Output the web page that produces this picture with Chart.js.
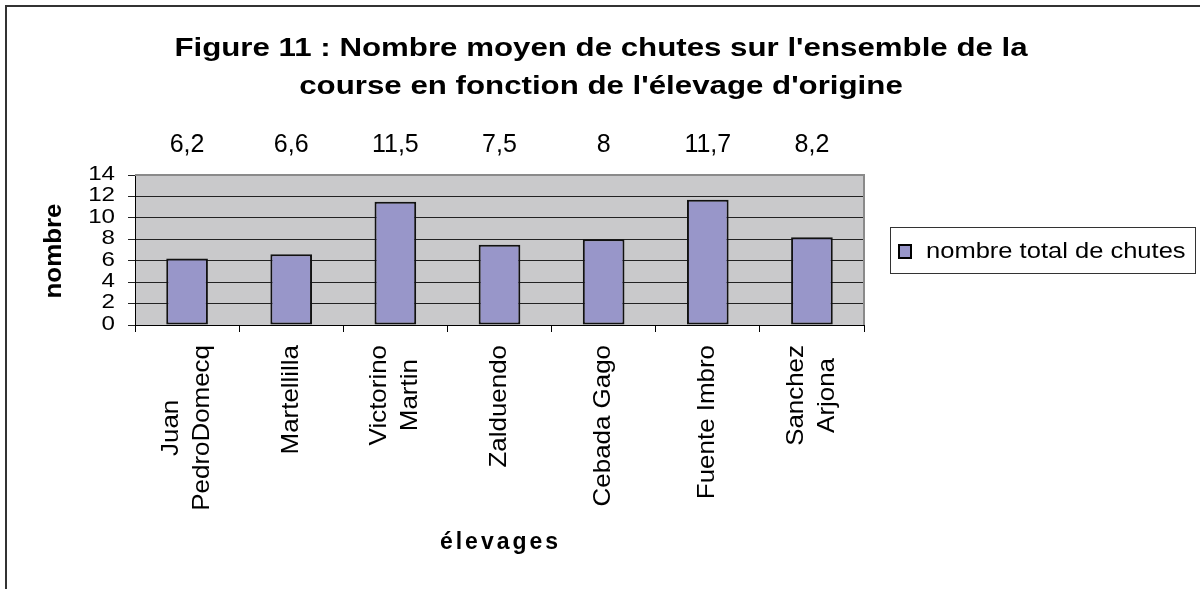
<!DOCTYPE html>
<html>
<head>
<meta charset="utf-8">
<script src="https://cdn.jsdelivr.net/npm/chart.js@4.4.1/dist/chart.umd.min.js"></script>
<style>
  html, body { margin: 0; padding: 0; background: #ffffff; }
  #c { display: block; }
</style>
</head>
<body>
<canvas id="c" width="1200" height="589"></canvas>
<script>
// ---- data ----
const titleLines = ["Figure 11 : Nombre moyen de chutes sur l'ensemble de la", "course en fonction de l'élevage d'origine"];
const categories = [["Juan", "PedroDomecq"], "Martellilla", ["Victorino", "Martin"], "Zalduendo", "Cebada Gago", "Fuente Imbro", ["Sanchez", "Arjona"]];
const seriesLabel = "nombre total de chutes";
const seriesValues = [6.2, 6.6, 11.5, 7.5, 8, 11.7, 8.2];
const yTitle = "nombre";
const xTitle = "élevages";
const yMin = 0, yMax = 14, yStep = 2;

const FONT = '"Liberation Sans", Arial, sans-serif';
const BAR = '#9896C9';
const PLOT_BG = '#C9C9CB';

function txt(ctx, s, x, y, o) {
  ctx.save();
  ctx.translate(x, y);
  if (o.rot) ctx.rotate(o.rot);
  ctx.scale(o.sx || 1, 1);
  ctx.font = (o.bold ? 'bold ' : '') + o.size + 'px ' + FONT;
  ctx.fillStyle = o.color || '#000';
  ctx.textAlign = o.align || 'center';
  ctx.textBaseline = o.baseline || 'alphabetic';
  if (o.spacing) ctx.letterSpacing = o.spacing + 'px';
  ctx.fillText(s, 0, 0);
  ctx.restore();
}
function measure(ctx, s, size, bold) {
  ctx.save();
  ctx.font = (bold ? 'bold ' : '') + size + 'px ' + FONT;
  const w = ctx.measureText(s).width;
  ctx.restore();
  return w;
}

const decor = {
  id: 'decor',
  beforeDraw(chart) {
    const ctx = chart.ctx, a = chart.chartArea;
    ctx.save();
    ctx.fillStyle = '#ffffff';
    ctx.fillRect(0, 0, chart.width, chart.height);
    ctx.fillStyle = PLOT_BG;
    ctx.fillRect(a.left, a.top, a.right - a.left, a.bottom - a.top);
    ctx.restore();
  },
  beforeDatasetsDraw(chart) {
    const ctx = chart.ctx, a = chart.chartArea;
    ctx.save();
    ctx.strokeStyle = '#8a8a8a';
    ctx.lineWidth = 2;
    ctx.beginPath();
    ctx.moveTo(a.left, a.top);
    ctx.lineTo(a.right, a.top);
    ctx.lineTo(a.right, a.bottom);
    ctx.stroke();
    ctx.restore();
  },
  afterDraw(chart) {
    const ctx = chart.ctx, a = chart.chartArea;
    const xs = chart.scales.x, ys = chart.scales.y;

    // outer frame (top and left)
    ctx.save();
    ctx.strokeStyle = '#333';
    ctx.lineWidth = 2;
    ctx.beginPath();
    ctx.moveTo(1200, 6);
    ctx.lineTo(6, 6);
    ctx.lineTo(6, 589);
    ctx.stroke();
    ctx.restore();

    // title
    titleLines.forEach((l, i) => txt(ctx, l, 601, 56 + i * 38, {size: 25, bold: true, sx: 1.25}));

    // value labels
    seriesValues.forEach((v, i) => {
      txt(ctx, String(v).replace('.', ','), xs.getPixelForValue(i), 152, {size: 25});
    });

    // y tick labels
    ys.ticks.forEach(t => {
      txt(ctx, String(t.value), a.left - 20, ys.getPixelForValue(t.value) - 1,
        {size: 21, sx: 1.15, align: 'right', baseline: 'middle'});
    });

    // x tick labels (rotated)
    const xSize = 24, xSx = 1.08, lh = 31;
    categories.forEach((c, i) => {
      const lines = Array.isArray(c) ? c : [c];
      const x = xs.getPixelForValue(i);
      const maxLen = Math.max(...lines.map(l => measure(ctx, l, xSize) * xSx));
      const cy = a.bottom + 20 + maxLen / 2;
      lines.forEach((l, j) => {
        const lx = x + (j - (lines.length - 1) / 2) * lh;
        txt(ctx, l, lx, cy, {size: xSize, sx: xSx, rot: -Math.PI / 2, baseline: 'middle'});
      });
    });

    // axis titles
    txt(ctx, yTitle, 54, 251, {size: 24, bold: true, sx: 1.08, rot: -Math.PI / 2, baseline: 'middle'});
    txt(ctx, xTitle, (a.left + a.right) / 2 + 1, 549, {size: 23, bold: true, spacing: 3});

    // legend
    ctx.save();
    ctx.strokeStyle = '#333';
    ctx.lineWidth = 1;
    ctx.strokeRect(890.5, 227.5, 305, 46);
    ctx.fillStyle = BAR;
    ctx.fillRect(899, 245, 12, 13);
    ctx.strokeStyle = '#000';
    ctx.lineWidth = 2;
    ctx.strokeRect(899, 245, 12, 13);
    ctx.restore();
    txt(ctx, chart.data.datasets[0].label, 926, 258, {size: 22, sx: 1.16, align: 'left'});
  }
};

new Chart(document.getElementById('c'), {
  type: 'bar',
  data: {
    labels: categories,
    datasets: [{
      label: seriesLabel,
      data: seriesValues,
      backgroundColor: BAR,
      borderColor: '#111',
      borderWidth: 2,
      borderSkipped: false,
      barPercentage: 0.4,
      categoryPercentage: 1.0
    }]
  },
  options: {
    responsive: false,
    animation: false,
    devicePixelRatio: 1,
    layout: { padding: { left: 0, top: 175, right: 336, bottom: 0 } },
    plugins: { legend: { display: false }, title: { display: false }, tooltip: { enabled: false } },
    scales: {
      x: {
        ticks: { display: false },
        grid: { drawOnChartArea: false, drawTicks: true, tickLength: 7, color: '#000', offset: true },
        border: { display: true, color: '#000', width: 1 },
        afterFit(s) { s.height = 264; }
      },
      y: {
        min: yMin, max: yMax,
        ticks: { display: false, stepSize: yStep },
        grid: { color: '#222', tickLength: 7, drawTicks: true, lineWidth: 1 },
        border: { display: true, color: '#000', width: 1 },
        afterFit(s) { s.width = 135; }
      }
    }
  },
  plugins: [decor]
});
</script>
</body>
</html>
